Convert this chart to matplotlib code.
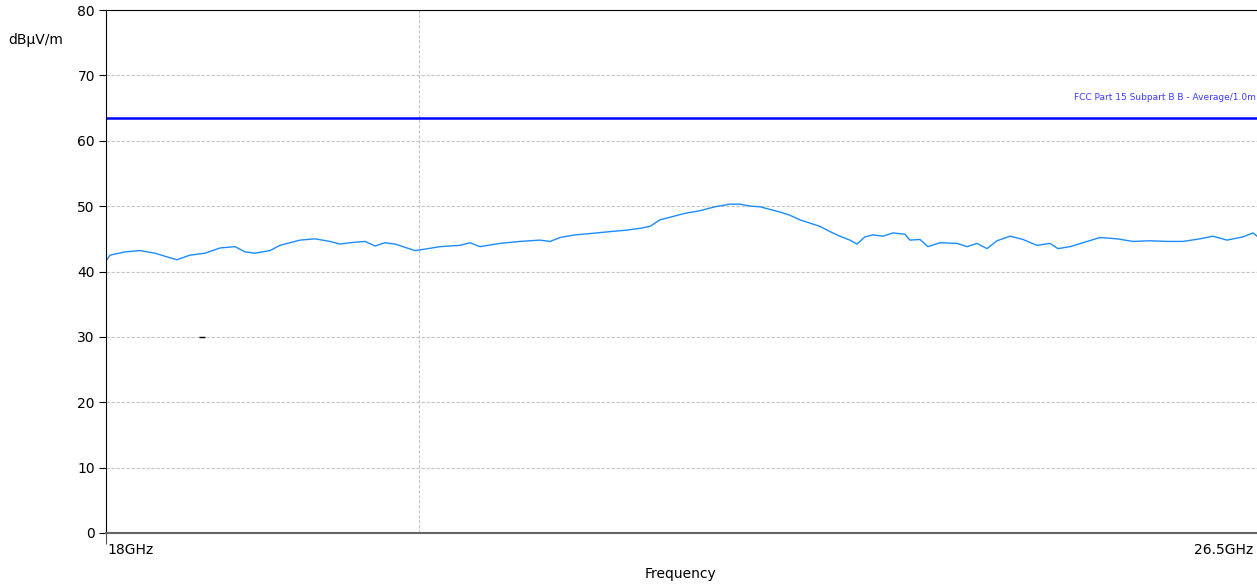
import matplotlib
matplotlib.use("Agg")
import matplotlib.pyplot as plt

# Trace (GHz, dBuV/m)
freq_ghz = [18.000, 18.030, 18.140, 18.251, 18.362, 18.473, 18.524, 18.620, 18.731, 18.842,
            18.953, 19.027, 19.100, 19.211, 19.285, 19.433, 19.543, 19.654, 19.728, 19.802,
            19.913, 19.987, 20.060, 20.134, 20.208, 20.282, 20.319, 20.467, 20.614, 20.688,
            20.762, 20.910, 21.057, 21.205, 21.279, 21.353, 21.464, 21.574, 21.722, 21.833,
            21.944, 22.017, 22.091, 22.165, 22.276, 22.387, 22.497, 22.608, 22.682, 22.756,
            22.830, 22.977, 23.051, 23.125, 23.273, 23.347, 23.420, 23.494, 23.546, 23.605,
            23.664, 23.738, 23.812, 23.900, 23.937, 24.011, 24.070, 24.159, 24.285, 24.358,
            24.432, 24.506, 24.580, 24.676, 24.772, 24.875, 24.971, 25.030, 25.119, 25.215,
            25.340, 25.466, 25.584, 25.710, 25.835, 25.953, 26.079, 26.175, 26.278, 26.397,
            26.471, 26.500]
level = [41.6, 42.5, 43.0, 43.2, 42.8, 42.1, 41.8, 42.5, 42.8, 43.6,
         43.8, 43.0, 42.8, 43.2, 44.0, 44.8, 45.0, 44.6, 44.2, 44.4,
         44.6, 43.9, 44.4, 44.2, 43.7, 43.2, 43.3, 43.8, 44.0, 44.4,
         43.8, 44.3, 44.6, 44.8, 44.6, 45.2, 45.6, 45.8, 46.1, 46.3,
         46.6, 46.9, 47.9, 48.3, 48.9, 49.3, 49.9, 50.3, 50.3, 50.0,
         49.9, 49.1, 48.6, 47.9, 46.9, 46.1, 45.4, 44.8, 44.2, 45.3,
         45.6, 45.4, 45.9, 45.7, 44.8, 44.9, 43.8, 44.4, 44.3, 43.8,
         44.3, 43.5, 44.7, 45.4, 44.9, 44.0, 44.3, 43.5, 43.8, 44.4,
         45.2, 45.0, 44.6, 44.7, 44.6, 44.6, 45.0, 45.4, 44.8, 45.3,
         45.9, 45.4]

limit_db = 63.5
limit_name = "FCC Part 15 Subpart B B - Average/1.0m"
marker_f, marker_db = 18.71, 30.0
cursor_f = 20.31

fig = plt.figure(figsize=(12.57, 5.84), dpi=100)
ax = fig.add_axes([106 / 1257, 51 / 584, 1151 / 1257, 523 / 584])

ax.plot(freq_ghz, level, color="#1a8cff", lw=1.0)
ax.axhline(limit_db, color="#0000ff", lw=1.8)
ax.text(26.49, limit_db + 2.4, limit_name, color="#3a3aff", fontsize=6.5,
        va="bottom", ha="right")
ax.plot([marker_f], [marker_db], marker="_", color="black", ms=5, mew=1)

ax.set_xlim(18, 26.5)
ax.set_ylim(0, 80)
ax.set_yticks(range(0, 81, 10))
for v in range(10, 80, 10):
    ax.axhline(v, color="#c4c4c4", lw=0.8, ls=(0, (3, 1.5)), zorder=0)
ax.axvline(cursor_f, color="#c4c4c4", lw=0.8, ls=(0, (3, 1.5)), zorder=0)

ax.set_xticks([18])
ax.set_xticklabels([""])
ax.tick_params(axis="x", length=8, width=0.8, color="#555555")
ax.tick_params(axis="y", length=5, width=0.8, labelsize=10, pad=3)
for s in ["left", "top"]:
    ax.spines[s].set_color("black")
    ax.spines[s].set_linewidth(0.8)
ax.spines["bottom"].set_color("#666666")
ax.spines["bottom"].set_linewidth(1.5)
ax.spines["right"].set_visible(False)

fig.text(8 / 1257, 1 - 40 / 584, "dB\u00b5V/m", fontsize=10, va="center", ha="left")
fig.text(107 / 1257, 1 - 550 / 584, "18GHz", fontsize=10, va="center", ha="left")
fig.text(1253 / 1257, 1 - 550 / 584, "26.5GHz", fontsize=10, va="center", ha="right")
fig.text(681 / 1257, 1 - 574 / 584, "Frequency", fontsize=10, va="center", ha="center")

fig.savefig("out.png", dpi=100)
